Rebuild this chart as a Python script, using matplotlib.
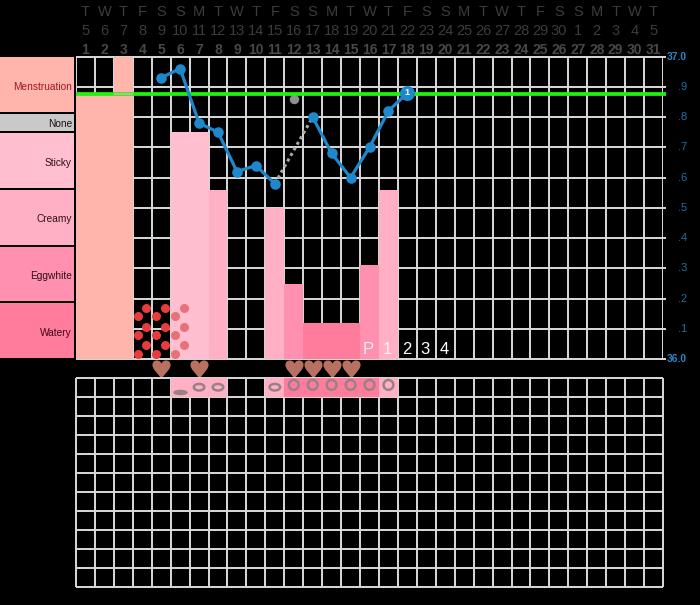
import matplotlib
matplotlib.use("Agg")
import matplotlib.pyplot as plt
from matplotlib.path import Path
from matplotlib.patches import Rectangle
from matplotlib.transforms import Affine2D

plt.rcParams['font.family'] = ['Liberation Sans', 'DejaVu Sans']

# ---- data ----
weekdays = list("TWTFSSMTWTFSSMTWTFSSMTWTFSSMTWT")
dates = [5,6,7,8,9,10,11,12,13,14,15,16,17,18,19,20,21,22,23,24,25,26,27,28,29,30,1,2,3,4,5]
cycle_days = list(range(1, 32))

band_names = ["Menstruation", "None", "Sticky", "Creamy", "Eggwhite", "Watery"]
band_colors = ["#FFB5AB", "#C9C9C9", "#FFBFD0", "#FFB0C4", "#FF90AF", "#FF7C9C"]
band_tops = [57, 114, 133, 190, 247, 303]
band_bottoms = [112, 131, 188, 245, 301, 358]
band_text_colors = ["#A01828", "#201010", "#301018", "#301018", "#301018", "#400818"]

bar_days = [1, 2, 3, 6, 7, 8, 11, 12, 13, 14, 15, 16, 17]
bar_tops = [36.875, 36.875, 37.0, 36.75, 36.75, 36.56, 36.50, 36.25, 36.12, 36.12, 36.12, 36.31, 36.56]
bar_colors = ["#FFB5AB", "#FFB5AB", "#FFB5AB", "#FFBFD0", "#FFBFD0", "#FFB0C4", "#FFB0C4",
              "#FF90AF", "#FF7C9C", "#FF7C9C", "#FF7C9C", "#FF90AF", "#FFB0C4"]

temp_days_a = [5, 6, 7, 8, 9, 10, 11]
temp_vals_a = [36.93, 36.96, 36.78, 36.75, 36.62, 36.64, 36.58]
temp_days_b = [13, 14, 15, 16, 17, 18]
temp_vals_b = [36.80, 36.68, 36.60, 36.70, 36.82, 36.88]
gap_days = [11, 13]
gap_vals = [36.58, 36.80]
excluded_day = [12]
excluded_val = [36.86]
coverline = 36.875
peak_labels = ["P", "1", "2", "3", "4"]
peak_days = [16, 17, 18, 19, 20]
right_ticks = [36.0, 36.1, 36.2, 36.3, 36.4, 36.5, 36.6, 36.7, 36.8, 36.9, 37.0]
right_labels = ["36.0", ".1", ".2", ".3", ".4", ".5", ".6", ".7", ".8", ".9", "37.0"]

heart_days = [5, 7, 12, 13, 14, 15]
dot_days = [4, 5, 6]
dot_colors = ["#E83C3C", "#E83C3C", "#E87078"]
dot_offsets = [.70, .25, .70, .25, .70, .25]
dot_levels = [36.170, 36.143, 36.108, 36.080, 36.046, 36.018]

strip_days = [6, 7, 8, 11, 12, 13, 14, 15, 16, 17]
strip_colors = ["#FFB0C4", "#FFB0C4", "#FFB0C4", "#FFB0C4", "#FF7C9C", "#FF7C9C",
                "#FF7C9C", "#FF7C9C", "#FF7C9C", "#FFB0C4"]
flat_ring_days = [7, 8, 11]
round_ring_days = [12, 13, 14, 15, 16, 17]
filled_flat_days = [6]

# ---- layout ----
W, H = 700, 605
GL, GR = 76, 663
fig = plt.figure(figsize=(7.0, 6.05), dpi=100, facecolor="black")

def box(top, bottom, left=GL, right=GR):
    return [left / W, 1 - bottom / H, (right - left) / W, (bottom - top) / H]

GRID = "#DADADA"
LW = 1.4
ax = fig.add_axes(box(56.5, 359.3))
ax.set_xlim(0, 31)
ax.set_ylim(36, 37)
ax.set_facecolor("black")
ax.axis("off")

# grid
for i in range(32):
    ax.plot([i, i], [36, 37], color=GRID, lw=LW, zorder=1, solid_capstyle="butt")
for t in right_ticks:
    ax.plot([0, 31.15], [t, t], color=GRID, lw=LW, zorder=1, clip_on=False, solid_capstyle="butt")

# bars
ax.bar([d - 1 for d in bar_days], [b - 36 for b in bar_tops], bottom=36, width=1,
       align="edge", color=bar_colors, linewidth=0, zorder=2)

# discharge dots
for d, col in zip(dot_days, dot_colors):
    xs = [d - 1 + o for o in dot_offsets]
    ax.scatter(xs, dot_levels, s=42, color=col, linewidths=0, zorder=3, clip_on=False)

# coverline (washed out where it crosses the tall first bar)
ax.plot([0, 31.15], [coverline, coverline], color="#22F010", lw=2.7, zorder=4,
        clip_on=False, solid_capstyle="butt")
ax.plot([2, 3], [coverline, coverline], color="#B4C088", lw=1.6, zorder=4.5, solid_capstyle="butt")

# temperature
BLUE = "#1E88CC"
ax.plot([d - .5 for d in gap_days], gap_vals, color="#A8A8A8", lw=2.2, ls=(0, (1, 1.1)), zorder=5)
ax.plot([d - .5 for d in excluded_day], excluded_val, "o", color="#909090", ms=6.8, mew=0, zorder=3)
for ds, vs in ((temp_days_a, temp_vals_a), (temp_days_b, temp_vals_b)):
    ax.plot([d - .5 for d in ds], vs, "-o", color=BLUE, lw=2.3, ms=7.6, mew=0, zorder=6)
ax.plot([temp_days_b[-1] - .5], [temp_vals_b[-1]], "o", color=BLUE, ms=10.8, mew=0, zorder=7)
ax.text(temp_days_b[-1] - .5, temp_vals_b[-1], "1", color="white", fontsize=6.5, fontweight="bold",
        ha="center", va="center", zorder=8)

# peak labels
for d, s in zip(peak_days, peak_labels):
    ax.text(d - .55, 36.033, s, color="white", fontsize=12, ha="center", va="center", zorder=8,
            alpha=.8 if s in "P1" else 1)

# right labels
for t, s in zip(right_ticks, right_labels):
    big = s in ("36.0", "37.0")
    ax.annotate(s, (31, t), xytext=(24, 0), textcoords="offset pixels", ha="right", va="center",
                color="#2E86C8" if big else "#1F6FA8", fontsize=7.4 if big else 8,
                fontweight="bold" if big else "normal", annotation_clip=False)

# header
for i in range(31):
    x = i + .5
    ax.annotate(weekdays[i], (x, 37), xytext=(0, 44.5), textcoords="offset pixels", ha="center",
                va="center", color="#3C3C3C", fontsize=10.5, annotation_clip=False)
    ax.annotate(str(dates[i]), (x, 37), xytext=(0, 25.5), textcoords="offset pixels", ha="center",
                va="center", color="#3C3C3C", fontsize=10.5, annotation_clip=False)
    ax.annotate(str(cycle_days[i]), (x, 37), xytext=(0, 6), textcoords="offset pixels", ha="center",
                va="center", color="#484848", fontsize=10, fontweight="bold", annotation_clip=False)

# hearts
heart = Path(
    [(0, -1), (-.5, -.35), (-1, .05), (-1, .5), (-1, .9), (-.7, 1), (-.5, 1), (-.25, 1), (-.08, .85), (0, .65),
     (.08, .85), (.25, 1), (.5, 1), (.7, 1), (1, .9), (1, .5), (1, .05), (.5, -.35), (0, -1), (0, -1)],
    [Path.MOVETO] + [Path.CURVE4] * 18 + [Path.CLOSEPOLY])
ax.scatter([d - .5 for d in heart_days], [35.969] * len(heart_days), marker=heart, s=170,
           color="#B87060", linewidths=0, zorder=6, clip_on=False)

# left bands
lab = fig.add_axes([0, 0, 1, 1], zorder=-1)
lab.set_xlim(0, W)
lab.set_ylim(H, 0)
lab.axis("off")
for name, col, top, bot, tc in zip(band_names, band_colors, band_tops, band_bottoms, band_text_colors):
    lab.add_patch(Rectangle((0, top), 74, bot - top, facecolor=col, linewidth=0))
    lab.text(72, (top + bot) / 2 + (2 if name != "None" else 1.5), name, color=tc, fontsize=7.3,
             ha="right", va="center")

# lower grid
lo = fig.add_axes(box(377.7, 586.7))
lo.set_xlim(0, 31)
lo.set_ylim(11, 0)
lo.set_facecolor("black")
lo.axis("off")
for i in range(32):
    lo.plot([i, i], [0, 11], color=GRID, lw=LW, zorder=1, solid_capstyle="butt", clip_on=False)
for j in range(12):
    lo.plot([0, 31], [j, j], color=GRID, lw=LW, zorder=1, solid_capstyle="butt", clip_on=False)
lo.bar([d - 1 for d in strip_days], [1] * len(strip_days), bottom=0, width=1, align="edge",
       color=strip_colors, linewidth=0, zorder=2)

RING = "#9A8088"
lo.scatter([d - .5 for d in filled_flat_days], [.74] * len(filled_flat_days),
           marker=Path.unit_circle().transformed(Affine2D().scale(1, .38)), s=110, color=RING,
           linewidths=0, zorder=3)
lo.scatter([d - .5 for d in flat_ring_days], [.5] * len(flat_ring_days),
           marker=Path.unit_circle().transformed(Affine2D().scale(1, .62)), s=58, facecolors="none",
           edgecolors=RING, linewidths=1.8, zorder=3)
lo.scatter([d - .5 for d in round_ring_days], [.38] * len(round_ring_days), marker="o", s=50,
           facecolors="none", edgecolors=RING, linewidths=1.8, zorder=3)

fig.savefig("out.png", dpi=100, facecolor="black")
